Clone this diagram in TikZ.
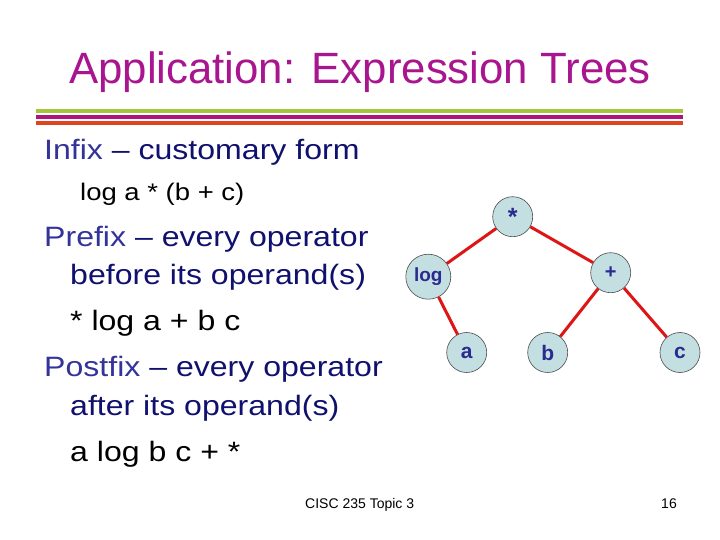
\documentclass[tikz,border=0pt]{standalone}
\usepackage{fontspec}
\setmainfont{Liberation Sans}
\definecolor{titlec}{HTML}{A8158E}
\definecolor{headc}{HTML}{33339A}
\definecolor{bodyc}{HTML}{10106E}
\definecolor{nodefill}{HTML}{C4DFE2}
\definecolor{nodetext}{HTML}{2A2A90}
\definecolor{edgec}{HTML}{DD1515}
\definecolor{lgreen}{HTML}{A4C639}
\definecolor{lmag}{HTML}{B0127E}
\definecolor{lred}{HTML}{E0441E}
\newcommand{\wide}[1]{\scalebox{1.145}[1]{#1}}
\begin{document}
\begin{tikzpicture}[x=1pt,y=-1pt,
  treenode/.style={circle,draw=black!70,line width=0.6pt,fill=nodefill,minimum size=40pt,inner sep=0pt,
    text=nodetext,font=\fontsize{21}{21}\selectfont\bfseries},
  edge/.style={edgec,line width=3pt},
  bigline/.style={anchor=base west,inner sep=0pt,font=\fontsize{28}{28}\selectfont},
  exline/.style={anchor=base west,inner sep=0pt,font=\fontsize{28}{28}\selectfont,text=black},
  rule/.style={line width=4pt}]
\useasboundingbox (0,0) rectangle (720,540);
\fill[white] (0,0) rectangle (720,540);
% title
\node[anchor=base,inner sep=0pt,text=titlec,font=\fontsize{43.8}{44}\selectfont] (title) at (360,84) {Application: Expression Trees};
% rules
\draw[rule,lgreen] (36,111) -- (683,111);
\draw[rule,lmag] (36,117) -- (683,117);
\draw[rule,lred] (36,123) -- (683,123);
% text
\node[bigline] (infix) at (44,160) {\wide{\textcolor{headc}{Infix} \textcolor{bodyc}{– customary form}}};
\node[anchor=base west,inner sep=0pt,font=\fontsize{24}{24}\selectfont] (ex1) at (80,201) {\wide{log a * (b + c)}};
\node[bigline] (prefix) at (44,246) {\wide{\textcolor{headc}{Prefix} \textcolor{bodyc}{– every operator}}};
\node[bigline,text=bodyc] (prefix2) at (70,284) {\wide{before its operand(s)}};
\node[exline] (ex2) at (70,330) {\wide{* log a + b c}};
\node[bigline] (postfix) at (44,376) {\wide{\textcolor{headc}{Postfix} \textcolor{bodyc}{– every operator}}};
\node[bigline,text=bodyc] (postfix2) at (70,415) {\wide{after its operand(s)}};
\node[exline] (ex3) at (70,461) {\wide{a log b c + *}};
% footer
\node[anchor=base west,inner sep=0pt,font=\fontsize{14}{14}\selectfont] (foot) at (305,508) {CISC 235 Topic 3};
\node[anchor=base east,inner sep=0pt,font=\fontsize{14}{14}\selectfont] (page) at (677,508) {16};
% tree
\node[treenode,font=\fontsize{25}{25}\selectfont\bfseries] (mul) at (512.7,216.7) {*};
\node[treenode,minimum size=45pt,font=\fontsize{19}{19}\selectfont\bfseries] (log) at (428.3,276.7) {log};
\node[treenode,font=\fontsize{20}{20}\selectfont\bfseries] (plus) at (610.7,272.7) {+};
\node[treenode] (a) at (466.7,352.5) {a};
\node[treenode] (b) at (547.7,352.5) {b};
\node[treenode] (c) at (680,352.5) {c};
\draw[edge] (mul) -- (log);
\draw[edge] (mul) -- (plus);
\draw[edge] (log) -- (a);
\draw[edge] (plus) -- (b);
\draw[edge] (plus) -- (c);
\end{tikzpicture}
\end{document}
